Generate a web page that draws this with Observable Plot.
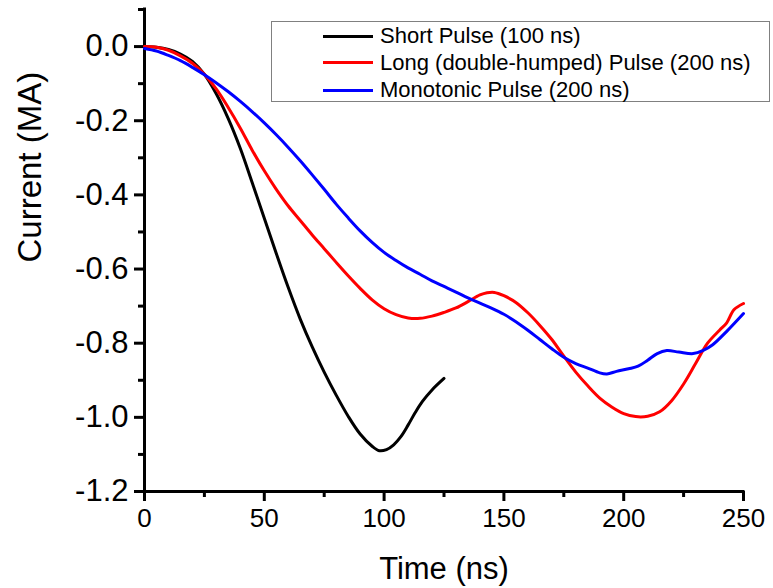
<!DOCTYPE html>
<html>
<head>
<meta charset="utf-8">
<script src="https://cdn.jsdelivr.net/npm/d3@7"></script>
<script src="https://cdn.jsdelivr.net/npm/@observablehq/plot@0.6"></script>
<style>
  html, body { margin: 0; padding: 0; background: #fff; }
  #wrap { position: relative; width: 773px; height: 588px; font-family: "Liberation Sans", Arial, sans-serif; }
  #legend { position: absolute; left: 271px; top: 21px; width: 497px; height: 79px; border: 1px solid #808080; background: #fff; box-sizing: content-box; }
  .row { position: absolute; left: 0; width: 100%; height: 24px; }
  .sw { position: absolute; left: 51px; width: 50px; height: 3px; top: 10.5px; }
  .lb { position: absolute; left: 108px; top: 0; font-size: 22px; line-height: 24px; color: #000; white-space: nowrap; }
</style>
</head>
<body>
<div id="wrap"></div>
<script>
// Short Pulse (100 ns)
const shortT = [0, 5, 10, 15, 20, 25, 30, 35, 40, 45, 50, 55, 60, 65, 70, 75, 80, 85, 90, 95, 98, 101, 104, 107, 110, 113, 116, 120, 125];
const shortI = [0, -0.002, -0.008, -0.02, -0.04, -0.075, -0.128, -0.195, -0.275, -0.368, -0.463, -0.558, -0.65, -0.735, -0.81, -0.878, -0.94, -0.997, -1.045, -1.078, -1.09, -1.087, -1.074, -1.052, -1.021, -0.987, -0.957, -0.926, -0.895];

// Long (double-humped) Pulse (200 ns)
const longT = [0, 5, 10, 15, 20, 25, 30, 35, 40, 45, 50, 55, 60, 65, 70, 75, 80, 85, 90, 95, 100, 105, 110, 115, 120, 125, 130, 135, 140, 143, 146, 150, 155, 160, 165, 170, 175, 180, 185, 190, 195, 200, 205, 210, 215, 220, 225, 230, 235, 240, 243, 246, 250];
const longI = [0, -0.002, -0.01, -0.025, -0.045, -0.075, -0.115, -0.165, -0.22, -0.28, -0.335, -0.385, -0.43, -0.469, -0.508, -0.545, -0.582, -0.618, -0.652, -0.683, -0.707, -0.723, -0.732, -0.733, -0.727, -0.717, -0.705, -0.688, -0.67, -0.664, -0.663, -0.672, -0.69, -0.718, -0.752, -0.79, -0.835, -0.878, -0.915, -0.948, -0.972, -0.99, -0.998, -0.997, -0.985, -0.955, -0.91, -0.855, -0.8, -0.765, -0.745, -0.71, -0.693];

// Monotonic Pulse (200 ns)
const monoT = [0, 5, 10, 15, 20, 25, 30, 35, 40, 45, 50, 55, 60, 65, 70, 75, 80, 85, 90, 95, 100, 105, 110, 115, 120, 125, 130, 135, 140, 145, 150, 155, 160, 165, 170, 175, 180, 185, 190, 193, 197, 202, 206, 210, 214, 218, 223, 229, 233, 237, 243, 250];
const monoI = [-0.005, -0.012, -0.024, -0.038, -0.056, -0.076, -0.098, -0.122, -0.148, -0.176, -0.206, -0.238, -0.272, -0.308, -0.346, -0.385, -0.425, -0.462, -0.497, -0.528, -0.555, -0.577, -0.597, -0.614, -0.632, -0.647, -0.662, -0.678, -0.692, -0.706, -0.722, -0.742, -0.765, -0.79, -0.815, -0.838, -0.855, -0.867, -0.88, -0.883, -0.876, -0.869, -0.862, -0.846, -0.828, -0.82, -0.824, -0.828, -0.82, -0.805, -0.768, -0.72];

const seriesNames = ["Short Pulse (100 ns)", "Long (double-humped) Pulse (200 ns)", "Monotonic Pulse (200 ns)"];
const seriesColors = ["#000000", "#ff0000", "#0000ff"];

const xMajor = [0, 50, 100, 150, 200, 250];
const xMinor = [25, 75, 125, 175, 225];
const yMajor = [0.0, -0.2, -0.4, -0.6, -0.8, -1.0, -1.2];
const yMinor = [0.1, -0.1, -0.3, -0.5, -0.7, -0.9, -1.1];

const xTitle = "Time (ns)";
const yTitle = "Current (MA)";

const toRows = (T, I) => T.map((t, k) => ({t, i: I[k]}));
const shortData = toRows(shortT, shortI);
const longData = toRows(longT, longI);
const monoData = toRows(monoT, monoI);

const chart = Plot.plot({
  width: 773,
  height: 588,
  marginLeft: 144,
  marginRight: 30,
  marginTop: 9,
  marginBottom: 97,
  x: {domain: [0, 250]},
  y: {domain: [-1.2, 0.1]},
  style: {fontFamily: "'Liberation Sans', Arial, sans-serif", color: "#000", background: "#fff", overflow: "visible"},
  marks: [
    Plot.axisX(xMajor, {tickSize: 10, tickPadding: 7, fontSize: 26, strokeWidth: 3, label: null, tickFormat: d => String(d)}),
    Plot.axisX(xMinor, {tickSize: 6, strokeWidth: 3, label: null, tickFormat: () => ""}),
    Plot.axisY(yMajor, {tickSize: 10, tickPadding: 6, fontSize: 31, strokeWidth: 3, label: null, tickFormat: d => d.toFixed(1)}),
    Plot.axisY(yMinor, {tickSize: 6, strokeWidth: 3, label: null, tickFormat: () => ""}),
    Plot.ruleX([0], {stroke: "#000", strokeWidth: 3, strokeLinecap: "square"}),
    Plot.ruleY([-1.2], {stroke: "#000", strokeWidth: 3, strokeLinecap: "square"}),
    Plot.line(shortData, {x: "t", y: "i", stroke: seriesColors[0], strokeWidth: 3, curve: "catmull-rom"}),
    Plot.line(longData, {x: "t", y: "i", stroke: seriesColors[1], strokeWidth: 3, curve: "catmull-rom"}),
    Plot.line(monoData, {x: "t", y: "i", stroke: seriesColors[2], strokeWidth: 3, curve: "catmull-rom"}),
    Plot.text([xTitle], {text: d => d, frameAnchor: "bottom", dy: 78, fontSize: 31, lineAnchor: "middle"}),
    Plot.text([yTitle], {text: d => d, frameAnchor: "left", rotate: -90, dx: -114, dy: 12, fontSize: 33, lineAnchor: "middle"})
  ]
});

const wrap = document.getElementById("wrap");
wrap.appendChild(chart);

const legend = document.createElement("div");
legend.id = "legend";
const rowCenters = [14, 40.7, 68.3];
seriesNames.forEach((name, k) => {
  const row = document.createElement("div");
  row.className = "row";
  row.style.top = (rowCenters[k] - 12) + "px";
  const sw = document.createElement("div");
  sw.className = "sw";
  sw.style.background = seriesColors[k];
  const lb = document.createElement("div");
  lb.className = "lb";
  lb.textContent = name;
  row.appendChild(sw);
  row.appendChild(lb);
  legend.appendChild(row);
});
wrap.appendChild(legend);
</script>
</body>
</html>
